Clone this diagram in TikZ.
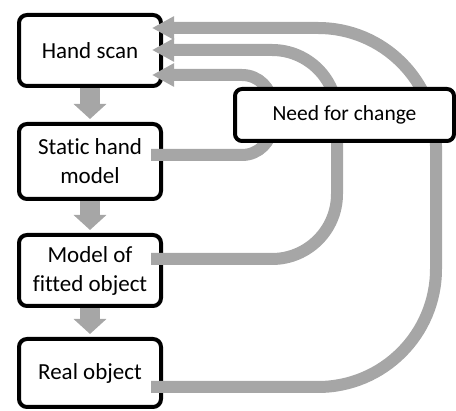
\documentclass[tikz,border=0pt]{standalone}
\usepackage{fontspec}
\setmainfont{Carlito}[Ligatures=NoCommon]
\usetikzlibrary{positioning,arrows.meta}
\definecolor{fbgray}{HTML}{A6A6A6}
\begin{document}
\begin{tikzpicture}[x=1pt, y=-1pt,
    stage/.style = {draw, line width=4pt, rounded corners=8pt, fill=white, minimum width=142pt, minimum height=71pt, inner sep=0pt, align=center, font=\fontsize{23}{29}\selectfont},
    need/.style = {draw, line width=4pt, rounded corners=7pt, fill=white, minimum width=219pt, minimum height=52pt, inner sep=0pt, font=\fontsize{21.5}{26}\selectfont},
    down/.style = {color=fbgray, line width=20pt, -{Triangle[length=15pt,width=32pt]}, shorten >=3pt},
    back/.style = {color=fbgray, line width=12pt, -{Triangle[length=22pt,width=22pt]}}]
    \useasboundingbox (0,0) rectangle (456,411);

    \node[stage] (hand) at (90,50.5) {Hand scan};
    \node[stage, minimum height=75pt] (static) [below=34pt of hand] {Static hand\\model};
    \node[stage] (model) [below=32pt of static] {Model of\\fitted object};
    \node[stage, minimum height=68pt] (real) [below=29pt of model] {Real object};

    \draw[down] (hand.south) -- (static.north);
    \draw[down] (static.south) -- (model.north);
    \draw[down] (model.south) -- (real.north);

    % loops back to the scan
    \coordinate (c1) at (272,75);
    \coordinate (c2) at (337,50);
    \coordinate (c3) at (436,28);
    \draw[back, rounded corners=30pt] ([shift={(-12,-6.5)}]static.east) -| (c1) -- ([shift={(-11,24.5)}]hand.east);
    \draw[back, rounded corners=65pt] ([shift={(-12,-11.5)}]model.east) -| (c2) -- ([shift={(-11,-0.5)}]hand.east);
    \draw[back, rounded corners=118pt] ([shift={(-12,14)}]real.east) -| (c3) -- ([shift={(-11,-22.5)}]hand.east);

    \node[need] (change) at (344.5,115) {Need for change};
\end{tikzpicture}
\end{document}
